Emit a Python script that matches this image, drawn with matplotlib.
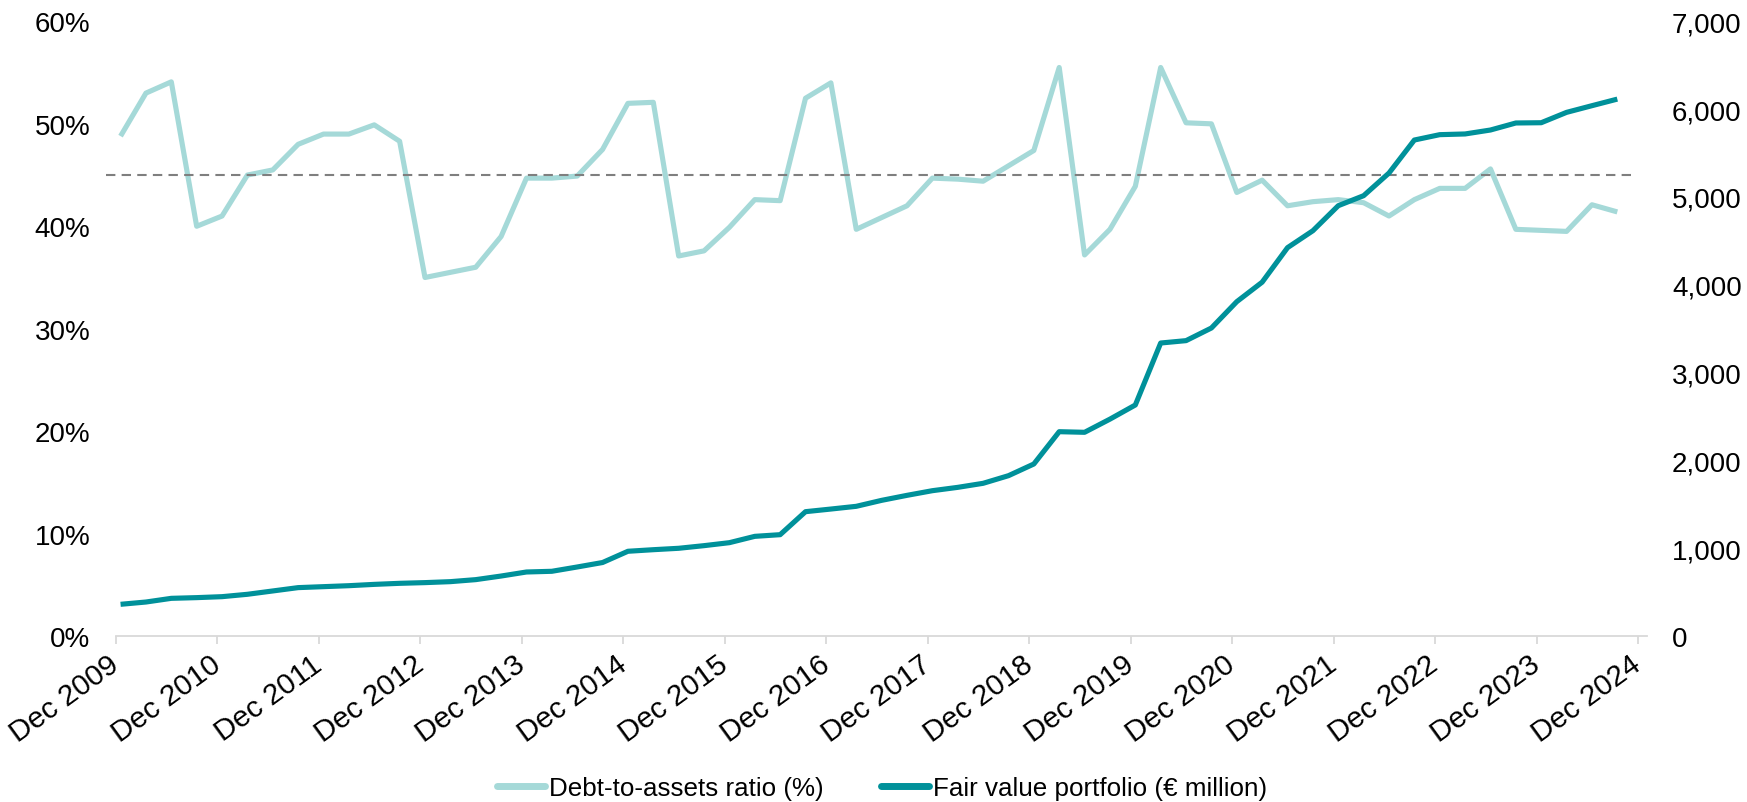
import numpy as np
import matplotlib
matplotlib.use("Agg")
import matplotlib.pyplot as plt
import matplotlib.transforms as mtransforms
from matplotlib.lines import Line2D
from matplotlib.ticker import FuncFormatter, MultipleLocator

plt.rcParams['font.family'] = ['Liberation Sans', 'DejaVu Sans']

# ---------------- data ----------------
year_labels = ["Dec 2009", "Dec 2010", "Dec 2011", "Dec 2012", "Dec 2013", "Dec 2014",
               "Dec 2015", "Dec 2016", "Dec 2017", "Dec 2018", "Dec 2019", "Dec 2020",
               "Dec 2021", "Dec 2022", "Dec 2023", "Dec 2024"]

# quarterly, Dec 2009 .. Sep 2024
debt_to_assets = [48.8, 53.0, 54.1, 40.0, 41.0, 45.0, 45.5, 48.0, 49.0, 49.0,
                  49.9, 48.3, 35.0, 35.5, 36.0, 39.0, 44.7, 44.7, 44.9, 47.5,
                  52.0, 52.1, 37.1, 37.6, 39.9, 42.6, 42.5, 52.5, 54.0, 39.7,
                  40.85, 42.0, 44.7, 44.6, 44.4, 45.9, 47.4, 55.5, 37.2, 39.7,
                  43.9, 55.5, 50.1, 50.0, 43.3, 44.5, 42.0, 42.4, 42.6, 42.3,
                  41.0, 42.6, 43.7, 43.7, 45.6, 39.7, 39.6, 39.5, 42.1, 41.4]

fair_value = [361, 387, 429, 437, 448, 475, 513, 551, 562, 573,
              588, 600, 608, 619, 642, 683, 729, 737, 786, 837,
              965, 983, 999, 1029, 1063, 1135, 1154, 1416, 1446, 1477,
              1545, 1602, 1655, 1693, 1739, 1826, 1959, 2327, 2320, 2470,
              2631, 3337, 3364, 3508, 3808, 4030, 4423, 4616, 4901, 5015,
              5273, 5649, 5710, 5718, 5763, 5843, 5846, 5964, 6040, 6115]

threshold = 45.0

series_names = ["Debt-to-assets ratio (%)", "Fair value portfolio (\u20ac million)"]

# ---------------- style ----------------
LIGHT = "#a5d9d8"
DARK = "#00919a"
AXIS_GREY = "#d9d9d9"
FS = 20

W, H = 1747, 803
fig = plt.figure(figsize=(W / 100, H / 100), dpi=100)
ax = fig.add_axes([116 / W, 1 - 637 / H, (1647 - 116) / W, (637 - 22.4) / H])
ax2 = ax.twinx()

n = len(debt_to_assets)
x = np.arange(n) + 0.18

ax.plot(x, debt_to_assets, color=LIGHT, lw=3.7, solid_joinstyle='round', solid_capstyle='butt', zorder=3)
ax.plot([-0.4, 59.8], [threshold, threshold], color="#7f7f7f", lw=1.5,
        linestyle=(0, (4.5, 3)), clip_on=False, zorder=4)
ax2.plot(x, fair_value, color=DARK, lw=3.7, solid_joinstyle='round', solid_capstyle='butt', zorder=3)

ax.set_xlim(0, 60.35)
ax.set_ylim(0, 60)
ax2.set_ylim(0, 7000)

ax.yaxis.set_major_locator(MultipleLocator(10))
ax.yaxis.set_major_formatter(FuncFormatter(lambda v, p: f"{v:.0f}%"))
ax2.yaxis.set_major_locator(MultipleLocator(1000))
ax2.yaxis.set_major_formatter(FuncFormatter(lambda v, p: f"{v:,.0f}"))

ax.set_xticks(np.arange(0, 4 * len(year_labels), 4))
ax.set_xticklabels(year_labels, rotation=36, ha='right', va='center', rotation_mode='anchor')
shift = mtransforms.ScaledTranslation(25 / 100, 0, fig.dpi_scale_trans)
for lab in ax.get_xticklabels():
    lab.set_transform(lab.get_transform() + shift)

for a in (ax, ax2):
    for s in ("top", "left", "right", "bottom"):
        a.spines[s].set_visible(False)
ax.spines["bottom"].set_visible(True)
ax.spines["bottom"].set_color(AXIS_GREY)
ax.spines["bottom"].set_linewidth(1.3)

ax.tick_params(axis='x', direction='out', length=5.5, width=1.3, color=AXIS_GREY,
               labelsize=21.3, pad=12.5, labelcolor="black")
ax.tick_params(axis='y', length=0, labelsize=FS, pad=18.5, labelcolor="black")
ax2.tick_params(axis='y', length=0, labelsize=FS, pad=18, labelcolor="black")

handles = [Line2D([0], [0], color=LIGHT, lw=5, solid_capstyle='round'),
           Line2D([0], [0], color=DARK, lw=5, solid_capstyle='round')]
fig.legend(handles, series_names, loc='center', bbox_to_anchor=(882 / W, 1 - 789 / H),
           ncol=2, frameon=False, fontsize=18.7, handlelength=1.85, handletextpad=0.15,
           columnspacing=2.2, borderaxespad=0, borderpad=0)

fig.savefig("out.png", dpi=100)
